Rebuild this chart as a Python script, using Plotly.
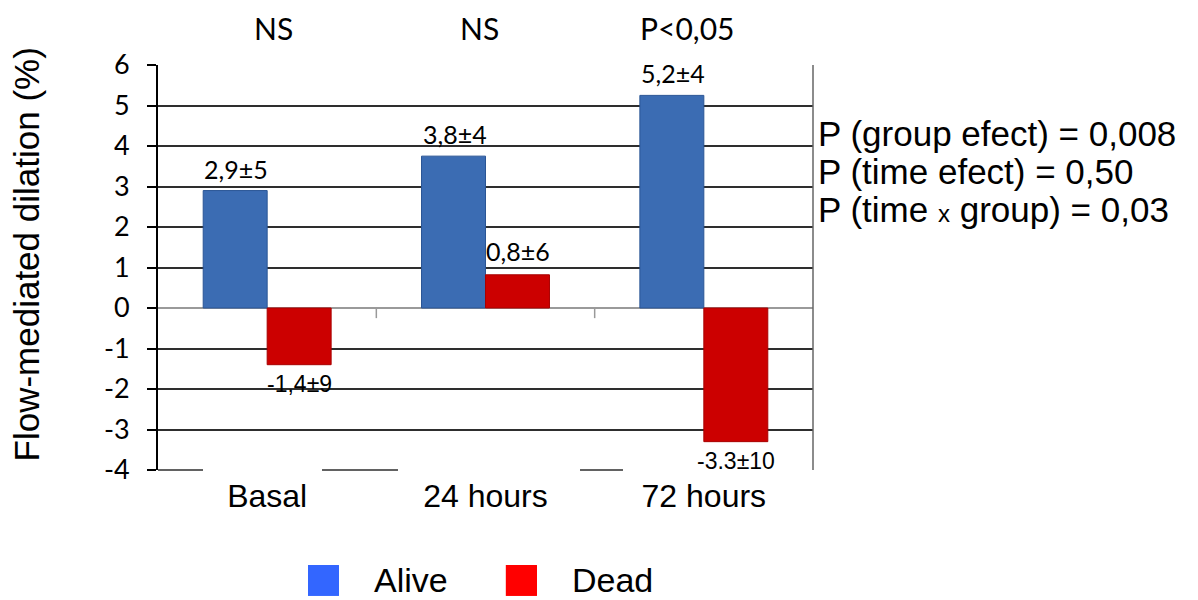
import plotly.graph_objects as go

categories = ["Basal", "24 hours", "72 hours"]
alive = [2.9, 3.75, 5.25]
dead = [-1.4, 0.82, -3.3]
alive_labels = ["2,9±5", "3,8±4", "5,2±4"]
dead_labels = ["-1,4±9", "0,8±6", "-3.3±10"]
top_labels = ["NS", "NS", "P<0,05"]
stats_lines = [
    "P (group efect) = 0,008",
    "P (time efect) = 0,50",
    "P (time <span style='font-size:24px'>x</span> group) = 0,03",
]
y_ticks = [-4, -3, -2, -1, 0, 1, 2, 3, 4, 5, 6]
y_tick_text = ["-4", "-3", "-2", "-1", "0", "1", "2", "3", "4", "5", "6"]

BLUE = "#3B6CB3"
RED = "#CC0000"
ARIAL = "Liberation Sans, Arial, sans-serif"
CAL = "Lato, Carlito, sans-serif"

fig = go.Figure()
fig.add_trace(go.Bar(x=categories, y=alive, name="Alive",
                     marker=dict(color=BLUE, line=dict(color="#2A5595", width=1))))
fig.add_trace(go.Bar(x=categories, y=dead, name="Dead",
                     marker=dict(color=RED, line=dict(color="#A80000", width=1))))

ann = []
# value labels
for i, c in enumerate(categories):
    ann.append(dict(x=c, y=alive[i], xref="x", yref="y", text=alive_labels[i],
                    showarrow=False, xshift=-31, yshift=22, yanchor="middle",
                    font=dict(family=CAL, size=25, color="black")))
    if dead[i] >= 0:
        ann.append(dict(x=c, y=dead[i], xref="x", yref="y", text=dead_labels[i],
                        showarrow=False, xshift=32, yshift=24, yanchor="middle",
                        font=dict(family=CAL, size=25, color="black")))
    else:
        ann.append(dict(x=c, y=dead[i], xref="x", yref="y", text=dead_labels[i],
                        showarrow=False, xshift=32, yshift=-19, yanchor="middle",
                        font=dict(family=ARIAL, size=23, color="black")))

# top significance labels
for xp, t in zip([0.1756, 0.4916, 0.8076], top_labels):
    ann.append(dict(x=xp, y=1.0914, xref="paper", yref="paper", text=t, showarrow=False,
                    xanchor="center", yanchor="middle",
                    font=dict(family=CAL, size=30, color="black")))

# stats text
for yp, t in zip([0.832, 0.738, 0.644], stats_lines):
    ann.append(dict(x=1.0045, y=yp, xref="paper", yref="paper", text=t, showarrow=False,
                    xanchor="left", yanchor="middle",
                    font=dict(family=ARIAL, size=35, color="black")))

# y title
ann.append(dict(x=-0.201, y=0.533, xref="paper", yref="paper",
                text="Flow-mediated dilation (%)", textangle=-90, showarrow=False,
                xanchor="center", yanchor="middle",
                font=dict(family=ARIAL, size=35, color="black")))

# legend text
ann.append(dict(x=0.3267, y=-0.2716, xref="paper", yref="paper", text="Alive",
                showarrow=False, xanchor="left", yanchor="middle",
                font=dict(family=ARIAL, size=34, color="black")))
ann.append(dict(x=0.629, y=-0.2716, xref="paper", yref="paper", text="Dead",
                showarrow=False, xanchor="left", yanchor="middle",
                font=dict(family=ARIAL, size=34, color="black")))

shapes = [
    # legend squares
    dict(type="rect", xref="paper", yref="paper", x0=0.229, x1=0.2763, y0=-0.2346, y1=-0.311,
         fillcolor="#3366FF", line=dict(width=0)),
    dict(type="rect", xref="paper", yref="paper", x0=0.531, x1=0.5786, y0=-0.2346, y1=-0.311,
         fillcolor="#FF0000", line=dict(width=0)),
    # right border
    dict(type="line", xref="paper", yref="paper", x0=1, x1=1, y0=0, y1=1,
         line=dict(color="#666666", width=1.5)),
    # category separators on zero line
    dict(type="line", xref="x", yref="y", x0=0.5, x1=0.5, y0=0, y1=-0.25,
         line=dict(color="#999999", width=1.5)),
    dict(type="line", xref="x", yref="y", x0=1.5, x1=1.5, y0=0, y1=-0.25,
         line=dict(color="#999999", width=1.5)),
]
# broken bottom baseline segments
for sx0, sx1 in [(0.0, 0.0687), (0.2504, 0.3664), (0.6443, 0.7099)]:
    shapes.append(dict(type="line", xref="paper", yref="paper", x0=sx0, x1=sx1, y0=0, y1=0,
                       line=dict(color="#2E2E2E", width=1.5)))

fig.update_layout(
    width=1190, height=592,
    margin=dict(l=150, r=385, t=57, b=130),
    paper_bgcolor="white", plot_bgcolor="white",
    barmode="group", bargap=0.414, bargroupgap=0,
    showlegend=False,
    annotations=ann, shapes=shapes,
    xaxis=dict(type="category", categoryorder="array", categoryarray=categories,
               range=[-0.5, 2.5], showline=False, ticks="", showgrid=False,
               tickfont=dict(family=ARIAL, size=32, color="black"),
               ticklabelstandoff=4),
    yaxis=dict(range=[-4, 6], tickvals=y_ticks, ticktext=y_tick_text, showgrid=True,
               gridcolor="#2E2E2E",
               gridwidth=1.5, zeroline=True, zerolinecolor="#9A9A9A", zerolinewidth=2,
               showline=True, linecolor="black", linewidth=2,
               ticks="outside", ticklen=9, tickwidth=1.5, tickcolor="black",
               tickfont=dict(family=CAL, size=27, color="black"),
               ticklabelstandoff=12),
)

fig.write_html("out.html")
